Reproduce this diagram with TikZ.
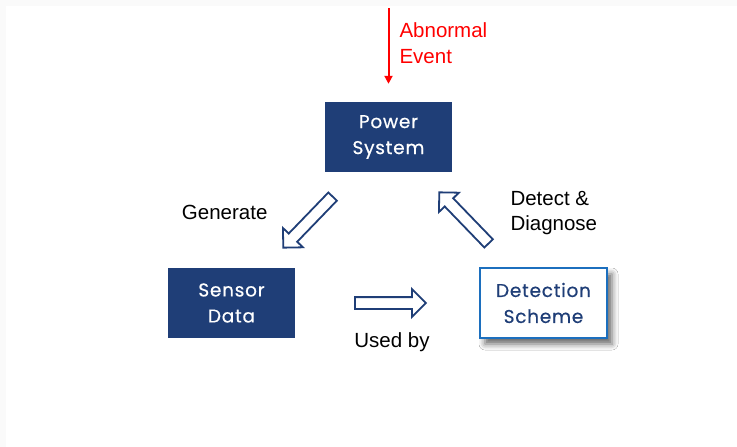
\documentclass[tikz,border=0pt]{standalone}
\usepackage{fontspec}
\setmainfont{Liberation Sans}
\newfontfamily\boxfont{Poppins}[FakeBold=0.5,LetterSpace=4]
\usetikzlibrary{positioning,calc,arrows.meta,shapes.arrows,shadows.blur}

\definecolor{navy}{HTML}{1F3E77}
\definecolor{rimblue}{HTML}{1C6FBE}

\begin{document}
\begin{tikzpicture}[x=1pt,y=-1pt,
    block/.style={minimum width=127pt,minimum height=70pt,inner sep=0pt,align=center,
        font=\boxfont\fontsize{18.5}{26}\selectfont},
    darkbox/.style={block,fill=navy,text=white},
    lightbox/.style={block,draw=rimblue,line width=2pt,fill=white,text=navy,
        blur shadow={shadow xshift=5pt,shadow yshift=-6pt,shadow opacity=60,shadow blur radius=6pt}},
    hollow/.style={single arrow,draw=navy,line width=1.8pt,fill=white,inner xsep=0pt,inner ysep=5pt,
        minimum height=71pt,single arrow head extend=8pt,single arrow head indent=0pt},
    tag/.style={font=\fontsize{20.5}{25.5}\selectfont,align=left}]
                \fill[gray!4] (0,0) rectangle (737,447);
                \fill[white] (6,6) rectangle (737,447);

                \node[darkbox] (power) at (388.5,137) {Power\\System};
                \node[darkbox] (sensor) at (231.5,303) {Sensor\\Data};
                \node[lightbox] (detect) at (543.5,303) {Detection\\Scheme};

                \coordinate (event) at (power.north |- 0,8);
                \draw[red,line width=2pt,-{Triangle[length=8pt,width=8pt]}] (event) -- ([yshift=18pt]power.north);
                \node[tag,text=red,anchor=west] (abnormal) at (396,43) {Abnormal\\Event};

                \node[hollow,rotate=226] (genarrow) at ($(power)!0.5!(sensor)$) {};
                \node[hollow] (usearrow) at ($(sensor)!0.5!(detect)$) {};
                \node[hollow,rotate=134] (diagarrow) at ($(detect)!0.5!(power)$) {};

                \node[tag,anchor=east] (generate) at (271,212) {Generate};
                \node[tag] (usedby) at (392,342) {Used by};
                \node[tag,anchor=west] (diagnose) at (507,213) {Detect \&\\Diagnose};
            \end{tikzpicture}
\end{document}
